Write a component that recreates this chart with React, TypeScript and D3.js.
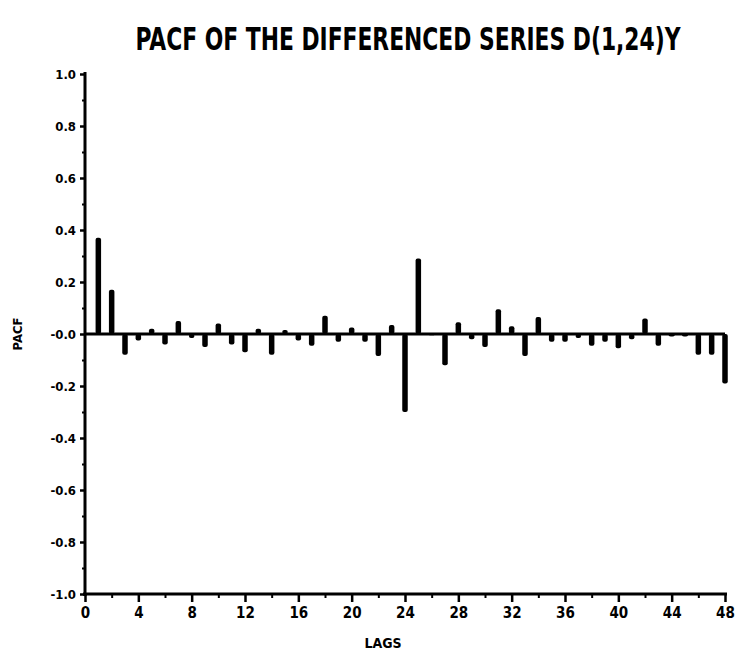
import React, { useEffect, useRef } from "react";
import * as d3 from "d3";

// PACF values, lag 1..48
const lags = [
  1, 2, 3, 4, 5, 6, 7, 8, 9, 10, 11, 12, 13, 14, 15, 16, 17, 18, 19, 20, 21, 22, 23, 24,
  25, 26, 27, 28, 29, 30, 31, 32, 33, 34, 35, 36, 37, 38, 39, 40, 41, 42, 43, 44, 45, 46, 47, 48,
];
const pacfValues = [
  0.37, 0.17, -0.08, -0.025, 0.02, -0.04, 0.05, -0.015, -0.05, 0.04, -0.04, -0.07,
  0.02, -0.08, 0.015, -0.025, -0.045, 0.07, -0.03, 0.025, -0.03, -0.085, 0.035, -0.3,
  0.29, -0.005, -0.12, 0.045, -0.02, -0.05, 0.095, 0.03, -0.085, 0.065, -0.03, -0.03,
  -0.015, -0.045, -0.03, -0.055, -0.02, 0.06, -0.045, -0.01, -0.01, -0.08, -0.08, -0.19,
];
const xTicks = [0, 4, 8, 12, 16, 20, 24, 28, 32, 36, 40, 44, 48];
const yTicks = [1.0, 0.8, 0.6, 0.4, 0.2, 0.0, -0.2, -0.4, -0.6, -0.8, -1.0];
const yTickLabels = ["1.0", "0.8", "0.6", "0.4", "0.2", "-0.0", "-0.2", "-0.4", "-0.6", "-0.8", "-1.0"];

const FONT = "'DejaVu Sans Condensed', 'DejaVu Sans', sans-serif";

const App = () => {
  const ref = useRef<SVGSVGElement>(null);

  useEffect(() => {
    const svg = d3.select(ref.current);
    svg.selectAll("*").remove();

    const width = 736;
    const height = 656;
    const left = 85, right = 725, top = 74, bottom = 594;

    const x = d3.scaleLinear().domain([0, 48]).range([left, right]);
    const y = d3.scaleLinear().domain([-1, 1]).range([bottom, top]);

    svg.attr("width", width).attr("height", height);
    svg.append("rect").attr("width", width).attr("height", height).attr("fill", "#fff");

    // title (squeezed wide, stretched tall like the plotter font)
    svg.append("text")
      .attr("transform", "translate(408,50) scale(1,1.25)")
      .attr("text-anchor", "middle")
      .attr("textLength", 545)
      .attr("lengthAdjust", "spacingAndGlyphs")
      .style("font-family", FONT)
      .style("font-weight", "900")
      .style("font-size", "26px")
      .text("PACF OF THE DIFFERENCED SERIES D(1,24)Y");

    // y axis
    const yAxis = svg.append("g").attr("transform", `translate(${left},0)`);
    yAxis.call(d3.axisLeft(y).tickValues(yTicks).tickSize(5).tickFormat((d, i) => yTickLabels[i]));
    yAxis.select(".domain").attr("stroke-width", 3).attr("d", `M0,${top - 2}V${bottom + 2}`);
    yAxis.selectAll(".tick line").attr("stroke-width", 2.5);
    yAxis.selectAll(".tick text")
      .attr("x", -9)
      .style("font-family", FONT)
      .style("font-weight", "bold")
      .style("font-size", "13px");
    // minor y ticks
    yAxis.append("g").call(d3.axisLeft(y).tickValues(d3.range(-0.9, 1.0, 0.2)).tickSize(3).tickFormat(() => ""))
      .call((g) => g.select(".domain").remove())
      .selectAll("line").attr("stroke-width", 2);

    // x axis
    const xAxis = svg.append("g").attr("transform", `translate(0,${bottom})`);
    xAxis.call(d3.axisBottom(x).tickValues(xTicks).tickSize(8).tickFormat((d) => `${d}`));
    xAxis.select(".domain").attr("stroke-width", 3).attr("d", `M${left - 2},0H${right + 2}`);
    xAxis.selectAll(".tick line").attr("stroke-width", 2.5);
    xAxis.selectAll(".tick text")
      .attr("y", 13)
      .style("font-family", FONT)
      .style("font-weight", "bold")
      .style("font-size", "15px");
    xAxis.append("g").call(d3.axisBottom(x).tickValues(d3.range(2, 48, 4)).tickSize(4).tickFormat(() => ""))
      .call((g) => g.select(".domain").remove())
      .selectAll("line").attr("stroke-width", 2);

    // axis labels
    svg.append("text")
      .attr("x", 383)
      .attr("y", 648)
      .attr("text-anchor", "middle")
      .style("font-family", FONT)
      .style("font-weight", "900")
      .style("font-size", "14px")
      .text("LAGS");

    svg.append("text")
      .attr("transform", `translate(22,${y(0)}) rotate(-90)`)
      .attr("text-anchor", "middle")
      .style("font-family", FONT)
      .style("font-weight", "900")
      .style("font-size", "13px")
      .text("PACF");

    // zero line
    svg.append("line")
      .attr("x1", x(0))
      .attr("x2", x(48))
      .attr("y1", y(0))
      .attr("y2", y(0))
      .attr("stroke", "#000")
      .attr("stroke-width", 3);

    // bars
    const data = lags.map((lag, i) => ({ lag, v: pacfValues[i] }));
    svg.append("g")
      .selectAll("rect")
      .data(data)
      .join("rect")
      .attr("x", (d) => x(d.lag) - 2.75)
      .attr("width", 5.5)
      .attr("y", (d) => Math.min(y(d.v), y(0)))
      .attr("height", (d) => Math.abs(y(d.v) - y(0)))
      .attr("rx", 2)
      .attr("fill", "#000");
  }, []);

  return <svg ref={ref} style={{ position: "absolute", left: 0, top: 0, display: "block" }} />;
};

export default App;
